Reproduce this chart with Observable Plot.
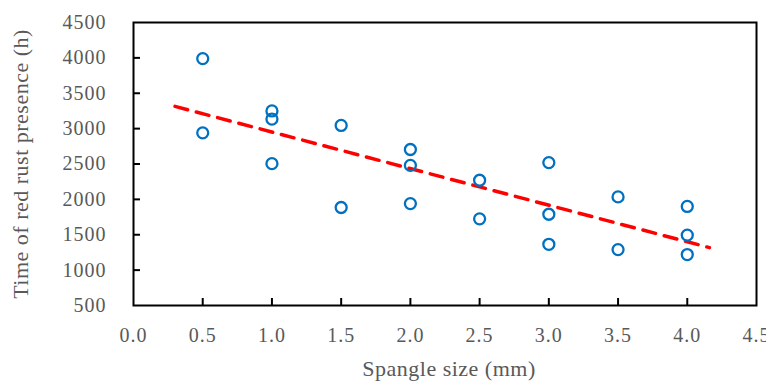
<!DOCTYPE html>
<html><head><meta charset="utf-8">
<script src="https://cdn.jsdelivr.net/npm/d3@7"></script>
<script src="https://cdn.jsdelivr.net/npm/@observablehq/plot@0.6"></script>
<style>body{margin:0;background:#fff}</style>
</head><body><div id="chart"></div>
<script>
const spangleSize = [0.5,0.5,1.0,1.0,1.0,1.5,1.5,2.0,2.0,2.0,2.5,2.5,3.0,3.0,3.0,3.5,3.5,4.0,4.0,4.0];
const rustTime   = [3990,2940,3250,3135,2505,3045,1885,2705,2480,1940,2270,1725,2520,1790,1365,2035,1290,1900,1495,1220];
const trendX = [0.3, 4.16];
const trendY = [3314, 1318];
const xTicks = [0,0.5,1,1.5,2,2.5,3,3.5,4,4.5];
const yTicks = [500,1000,1500,2000,2500,3000,3500,4000,4500];

const pts = spangleSize.map((x,i)=>({x, y: rustTime[i]}));
const trend = trendX.map((x,i)=>({x, y: trendY[i]}));
const font = "Liberation Serif, Times New Roman, serif";
const grey = "#595959";

const chart = Plot.plot({
  width: 766, height: 383,
  marginLeft: 133, marginRight: 10, marginTop: 22, marginBottom: 78,
  style: {fontFamily: font, fontSize: "20px", color: grey, background: "white", overflow: "visible"},
  x: {domain: [0, 4.5], label: null},
  y: {domain: [500, 4500], label: null},
  marks: [
    Plot.axisX({ticks: xTicks.slice(1,-1), tickSize: -7, tickFormat: () => "", stroke: "black", strokeWidth: 2}),
    Plot.axisY({ticks: yTicks.slice(1,-1), tickSize: -7, tickFormat: () => "", stroke: "black", strokeWidth: 2}),
    Plot.axisX({ticks: xTicks, tickSize: 0, tickPadding: 22, tickFormat: d3.format(".1f"), fill: grey, fontSize: 20}),
    Plot.axisY({ticks: yTicks, tickSize: 0, tickPadding: 27, tickFormat: d => String(d), fill: grey, fontSize: 20}),
    Plot.frame({stroke: "black", strokeWidth: 2}),
    Plot.line(trend, {x: "x", y: "y", stroke: "#FF0000", strokeWidth: 3.5, strokeDasharray: "13,9"}),
    Plot.dot(pts, {x: "x", y: "y", r: 5.5, stroke: "#0070C0", strokeWidth: 2.3, fill: "none"}),
    Plot.text(["Spangle size (mm)"], {frameAnchor: "bottom", dx: 4, dy: 70, fill: grey, fontSize: 22, fontFamily: font}),
    Plot.text(["Time of red rust presence (h)"], {frameAnchor: "left", dx: -113, rotate: -90, textAnchor: "middle", fill: grey, fontSize: 22, fontFamily: font})
  ]
});
chart.querySelectorAll("text").forEach(t => {
  const s = t.getAttribute("font-size");
  t.style.letterSpacing = (s === "22" || t.closest("[font-size='22']")) ? "0.5px" : "1px";
});
document.getElementById("chart").appendChild(chart);
</script></body></html>
